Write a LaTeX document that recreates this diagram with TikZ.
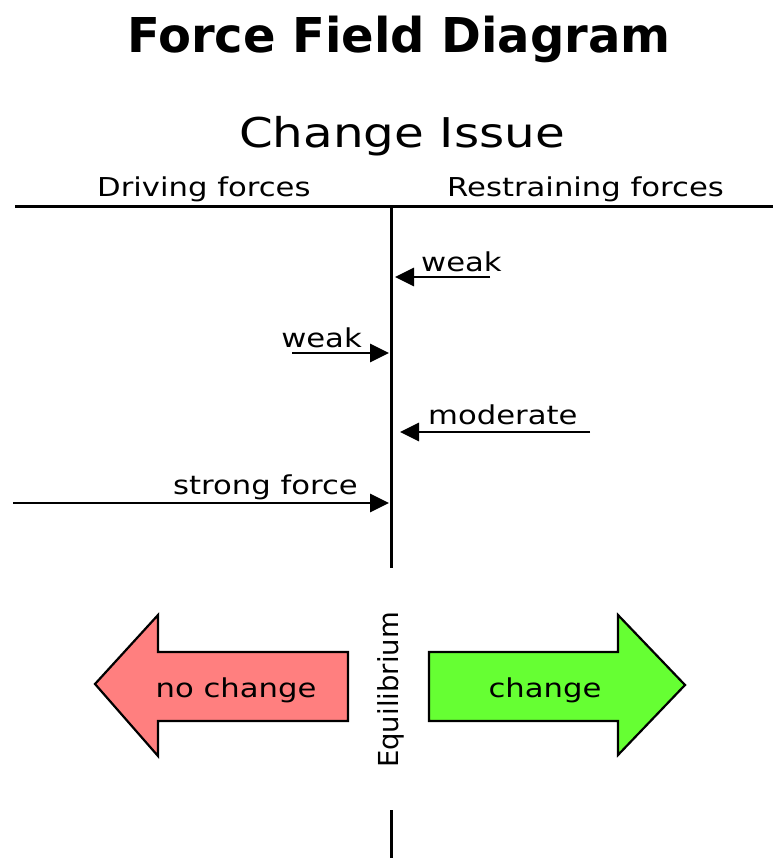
\documentclass[tikz,border=0pt]{standalone}
\usepackage{fontspec}
\setmainfont{DejaVu Sans}
\newfontfamily\widefont[FakeStretch=1.18]{DejaVu Sans}
\usetikzlibrary{arrows.meta}
\definecolor{nochangefill}{HTML}{FF7F7F}
\definecolor{changefill}{HTML}{66FF33}
\tikzset{
  rule/.style={line width=3pt},
  force/.style={line width=2.8pt, -{Triangle[length=19pt,width=18pt]}},
  lbl/.style={inner sep=0pt, font=\widefont\fontsize{26}{26}\selectfont},
  blockarrow/.style={draw=black, line width=2.2pt, line join=miter},
}
\begin{document}
\begin{tikzpicture}[x=1pt,y=-1pt]
  \useasboundingbox (0,0) rectangle (773,858);

  % headings
  \node[inner sep=0pt, anchor=base, font=\bfseries\fontsize{48}{48}\selectfont] (title) at (399,53) {Force Field Diagram};
  \node[inner sep=0pt, anchor=base, font=\widefont\fontsize{41}{41}\selectfont] (issue) at (402,148) {Change Issue};
  \node[lbl, anchor=base west] (driving) at (97,197) {Driving forces};
  \node[lbl, anchor=base west] (restraining) at (447,197) {Restraining forces};

  % the axis lines
  \coordinate (hl) at (15,207);
  \coordinate (hr) at (773,207);
  \coordinate (vt) at (391,207);
  \coordinate (vb) at (391,568);
  \coordinate (vt2) at (391,810);
  \coordinate (vb2) at (391,858);
  \draw[rule] (hl) -- (hr);
  \draw[rule] (vt) -- (vb);
  \draw[rule] (vt2) -- (vb2);

  % individual forces
  \coordinate (r1s) at (490,277);  \coordinate (r1e) at (395,277);
  \coordinate (d1s) at (292,353);  \coordinate (d1e) at (389,353);
  \coordinate (r2s) at (590,432);  \coordinate (r2e) at (400,432);
  \coordinate (d2s) at (13,503);   \coordinate (d2e) at (389,503);
  \draw[force] (r1s) -- (r1e);
  \draw[force] (d1s) -- (d1e);
  \draw[force] (r2s) -- (r2e);
  \draw[force] (d2s) -- (d2e);
  \node[lbl, anchor=base west] (r1lbl) at (421,272) {weak};
  \node[lbl, anchor=base east] (d1lbl) at (362,347) {weak};
  \node[lbl, anchor=base west] (r2lbl) at (428,424) {moderate};
  \node[lbl, anchor=base east] (d2lbl) at (358,494) {strong force};

  % outcome arrows
  \draw[blockarrow, fill=nochangefill]
    (348,652) -- (158,652) -- (158,615) -- (95,684) -- (158,756) -- (158,721) -- (348,721) -- cycle;
  \draw[blockarrow, fill=changefill]
    (429,652) -- (618,652) -- (618,615) -- (685,685) -- (618,755) -- (618,721) -- (429,721) -- cycle;
  \node[lbl, anchor=base] (nochange) at (236,697) {no change};
  \node[lbl, anchor=base] (change) at (545,697) {change};
  \node[inner sep=0pt, rotate=90, font=\fontsize{27.5}{27.5}\selectfont] (equilibrium) at (391,690) {Equilibrium};
\end{tikzpicture}
\end{document}
